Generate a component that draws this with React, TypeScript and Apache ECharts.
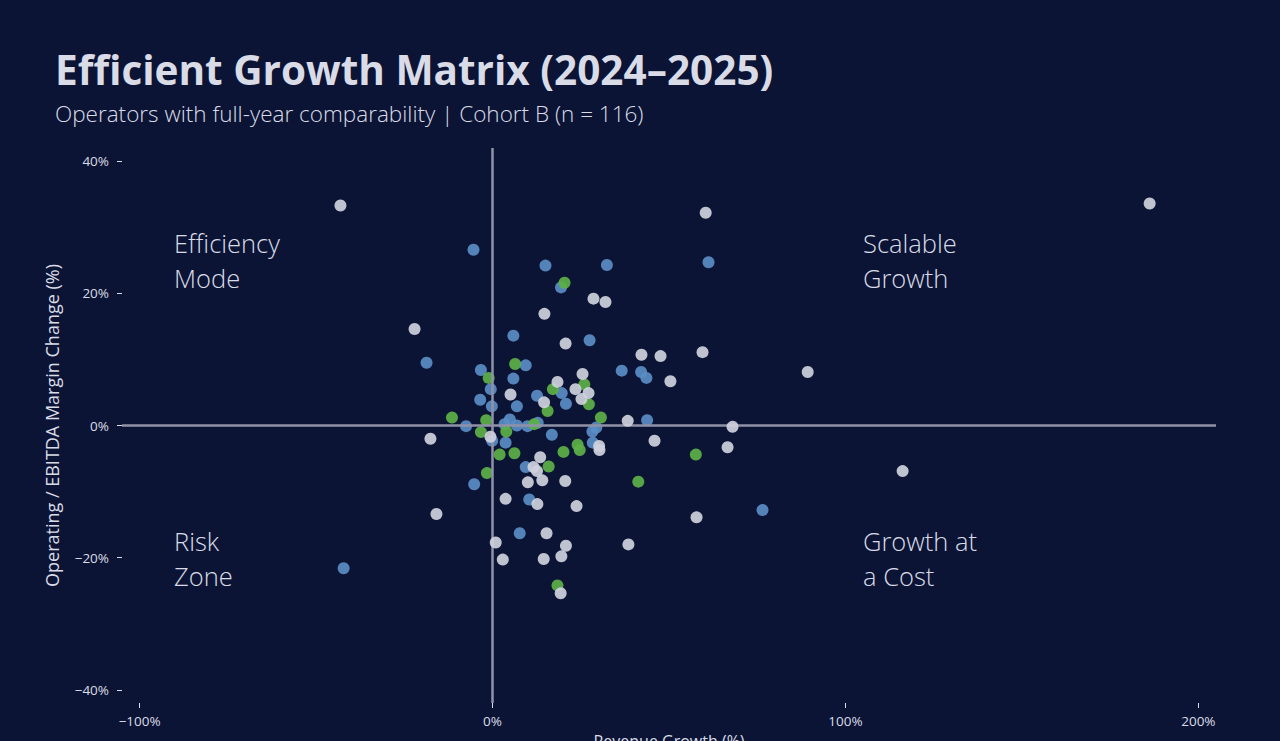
import React, { useEffect, useRef } from "react";
import * as echarts from "echarts";

// Revenue growth (%) and operating / EBITDA margin change (%) per operator, by group
const blueGrowth = [-5.4, 15.0, 32.4, 61.2, 19.4, 5.9, 27.5, -18.7, 36.6, 42.1, 43.6, 43.8, 76.5, -42.2, -5.2, 9.4, -3.3, 5.9, -0.5, 12.6, 19.6, -3.5, -0.2, 6.9, 20.8, -7.5, 4.9, 3.4, 6.9, 9.9, 12.8, 29.4, 28.3, 28.4, -0.1, 3.7, 16.8, 9.4, 10.4, 7.7];
const blueMargin = [26.6, 24.2, 24.3, 24.7, 20.9, 13.6, 12.9, 9.5, 8.3, 8.1, 7.2, 0.8, -12.8, -21.6, -8.9, 9.1, 8.4, 7.1, 5.5, 4.5, 4.9, 3.9, 2.9, 2.9, 3.3, -0.1, 0.9, 0.2, 0.0, -0.1, 0.4, -0.3, -0.9, -2.6, -2.3, -2.6, -1.4, -6.3, -11.2, -16.3];

const greenGrowth = [20.4, 6.4, -1.1, 17.1, 26.0, 27.3, 15.6, 30.7, -11.5, -1.8, 11.8, -3.3, 3.9, 2.0, 6.2, -1.6, 20.1, 24.1, 24.7, 15.9, 57.6, 41.3, 18.4];
const greenMargin = [21.6, 9.3, 7.2, 5.5, 6.2, 3.2, 2.2, 1.2, 1.2, 0.8, 0.2, -1.0, -0.9, -4.4, -4.2, -7.2, -4.0, -2.9, -3.7, -6.2, -4.4, -8.5, -24.2];

const greyGrowth = [-43.1, 186.2, 60.4, 28.6, 32.0, 14.7, -22.1, 20.7, 59.5, 42.2, 47.6, 89.3, 50.4, 68.0, 66.6, 116.2, 57.8, 38.3, 45.9, 38.5, -15.9, -17.6, 25.5, 18.4, 23.5, 27.2, 5.1, 25.2, 14.6, -0.6, 30.2, 30.3, 13.5, 12.6, 14.1, 10.0, 20.6, 3.7, 12.7, 23.8, 15.3, 20.8, 0.9, 2.9, 14.5, 19.5, 19.3, 11.6];
const greyMargin = [33.3, 33.6, 32.2, 19.2, 18.7, 16.9, 14.6, 12.4, 11.1, 10.7, 10.5, 8.1, 6.7, -0.2, -3.3, -6.9, -13.9, 0.7, -2.3, -18.0, -13.4, -2.0, 7.8, 6.6, 5.5, 4.9, 4.7, 4.0, 3.5, -1.7, -3.1, -3.7, -4.8, -6.9, -8.3, -8.6, -8.4, -11.1, -11.9, -12.2, -16.3, -18.2, -17.7, -20.3, -20.2, -19.8, -25.4, -6.3];

const xTicks = [-100, 0, 100, 200];
const yTicks = [-40, -20, 0, 20, 40];

const TITLE = "Efficient Growth Matrix (2024\u20132025)";
const SUBTITLE = "Operators with full-year comparability | Cohort B (n = 116)";
const X_NAME = "Revenue Growth (%)";
const Y_NAME = "Operating / EBITDA Margin Change (%)";

const quadrantLabels = [
  { text: "Efficiency\nMode", x: 174, y: 225 },
  { text: "Scalable\nGrowth", x: 863, y: 225 },
  { text: "Risk\nZone", x: 174, y: 523 },
  { text: "Growth at\na Cost", x: 863, y: 523 },
];

const BG = "#0c1435";
const TEXT = "#d9dce7";
const FONT = "'Open Sans', 'Noto Sans', sans-serif";

const pct = (v: number) => (v < 0 ? "\u2212" + Math.abs(v) : String(v)) + "%";
const zip = (xs: number[], ys: number[]) => xs.map((x, i) => [x, ys[i]]);

export default function App() {
  const ref = useRef<HTMLDivElement>(null);

  useEffect(() => {
    if (!ref.current) return;
    const chart = echarts.init(ref.current, undefined, { renderer: "svg" });

    const dot = (name: string, color: string, data: number[][], z: number) => ({
      name,
      type: "scatter",
      data,
      symbolSize: 12,
      z,
      itemStyle: { color, opacity: 0.92 },
    });

    chart.setOption({
      animation: false,
      backgroundColor: BG,
      textStyle: { fontFamily: FONT },
      title: [
        {
          text: TITLE,
          left: 55,
          top: 49,
          padding: 0,
          textStyle: { color: TEXT, fontSize: 40.5, fontWeight: "bold", fontFamily: FONT },
        },
        {
          text: SUBTITLE,
          left: 55,
          top: 102,
          padding: 0,
          textStyle: { color: TEXT, fontSize: 22.5, fontWeight: 300, fontFamily: FONT },
        },
      ],
      grid: {
        left: 122,
        right: 64,
        top: 148,
        bottom: 38,
        containLabel: false,
        outerBoundsMode: "none",
      },
      xAxis: {
        type: "value",
        min: -105,
        max: 205,
        name: X_NAME,
        nameLocation: "middle",
        nameGap: 30,
        nameTextStyle: { color: TEXT, fontSize: 16, fontFamily: FONT },
        axisLine: { show: false, onZero: false },
        splitLine: { show: false },
        axisTick: { show: true, length: 5, customValues: xTicks, lineStyle: { color: TEXT, width: 1 } },
        axisLabel: { customValues: xTicks, formatter: pct, color: TEXT, fontSize: 13.5, margin: 11, fontFamily: FONT },
      },
      yAxis: {
        type: "value",
        min: -42,
        max: 42,
        name: Y_NAME,
        nameLocation: "middle",
        nameGap: 61,
        nameTextStyle: { color: TEXT, fontSize: 18, fontFamily: FONT },
        axisLine: { show: false, onZero: false },
        splitLine: { show: false },
        axisTick: { show: true, length: 5, customValues: yTicks, lineStyle: { color: TEXT, width: 1 } },
        axisLabel: { customValues: yTicks, formatter: pct, color: TEXT, fontSize: 13.5, margin: 13, fontFamily: FONT },
      },
      graphic: quadrantLabels.map((q) => ({
        type: "text",
        x: q.x,
        y: q.y,
        silent: true,
        style: {
          text: q.text,
          fill: TEXT,
          fontSize: 25.5,
          fontWeight: 300,
          lineHeight: 35,
          fontFamily: FONT,
          verticalAlign: "top",
        },
      })),
      series: [
        {
          type: "scatter",
          data: [],
          silent: true,
          markLine: {
            silent: true,
            symbol: "none",
            label: { show: false },
            lineStyle: { color: "#8f92a7", width: 2.5, type: "solid" },
            data: [{ xAxis: 0 }, { yAxis: 0 }],
          },
        },
        dot("Group A", "#5b8dc6", zip(blueGrowth, blueMargin), 3),
        dot("Group B", "#5db147", zip(greenGrowth, greenMargin), 4),
        dot("Group C", "#cfd2dd", zip(greyGrowth, greyMargin), 5),
      ],
    });

    return () => chart.dispose();
  }, []);

  return (
    <div
      ref={ref}
      style={{ position: "fixed", left: 0, top: 0, width: 1280, height: 741 }}
    />
  );
}
